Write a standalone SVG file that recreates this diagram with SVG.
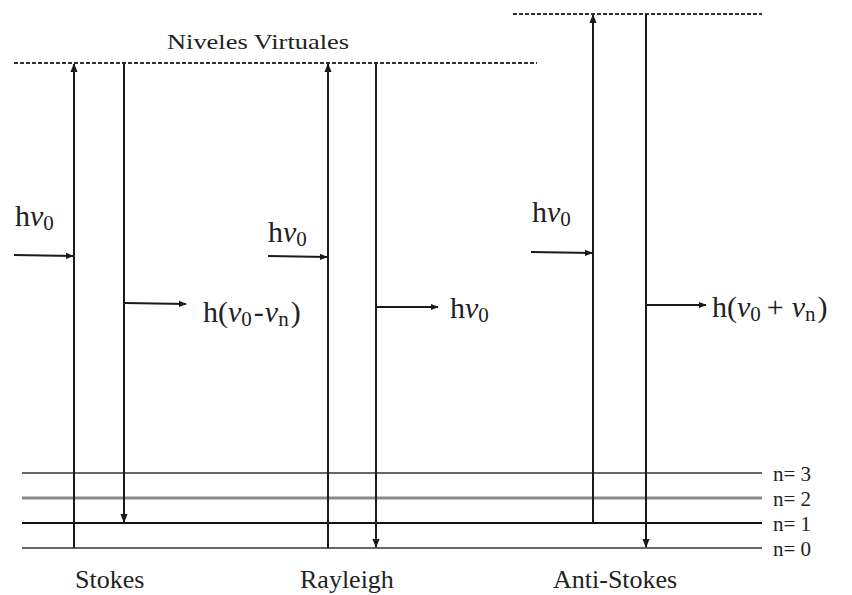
<svg xmlns="http://www.w3.org/2000/svg" width="852" height="595" viewBox="0 0 852 595">
  <style>
    .lbl { font-family: "Liberation Serif", "Times New Roman", serif; fill: #222; }
    .math { font-family: "Liberation Serif", "DejaVu Serif", serif; fill: #222; font-size: 30px; }
    .nu { font-style: italic; }
    .virt { stroke: #333; stroke-width: 2; stroke-dasharray: 4 2; fill: none; }
    .tr { stroke: #1a1a1a; stroke-width: 2; fill: none; }
    .ph { stroke: #1a1a1a; stroke-width: 1.8; fill: none; }
  </style>
  <defs>
    <marker id="ah" viewBox="0 0 10 10" refX="9" refY="5" markerWidth="4.5" markerHeight="4.5" orient="auto" markerUnits="strokeWidth">
      <path d="M0,1 L10,5 L0,9 z" fill="#1a1a1a"/>
    </marker>
  </defs>
  <rect width="852" height="595" fill="#fff"/>

  <!-- virtual levels -->
  <g id="virtual-levels">
    <line class="virt" x1="14" y1="63" x2="537" y2="63"/>
    <line class="virt" x1="513" y1="14" x2="762" y2="14"/>
    <text class="lbl" x="167" y="49" font-size="22" textLength="182" lengthAdjust="spacingAndGlyphs">Niveles Virtuales</text>
  </g>

  <!-- vibrational levels -->
  <g id="levels">
    <line x1="22" y1="473" x2="762" y2="473" stroke="#333" stroke-width="1.6"/>
    <line x1="22" y1="498" x2="762" y2="498" stroke="#8a8a8a" stroke-width="3"/>
    <line x1="22" y1="523" x2="762" y2="523" stroke="#111" stroke-width="2.2"/>
    <line x1="22" y1="548" x2="762" y2="548" stroke="#333" stroke-width="1.6"/>
    <text class="lbl" x="773" y="481" font-size="21">n= 3</text>
    <text class="lbl" x="773" y="506" font-size="21">n= 2</text>
    <text class="lbl" x="773" y="531" font-size="21">n= 1</text>
    <text class="lbl" x="773" y="556" font-size="21">n= 0</text>
  </g>

  <!-- transitions -->
  <g id="connectors">
    <line class="tr" x1="74" y1="548" x2="74" y2="64" marker-end="url(#ah)"/>
    <line class="tr" x1="124" y1="63" x2="124" y2="522" marker-end="url(#ah)"/>
    <line class="tr" x1="328" y1="548" x2="328" y2="64" marker-end="url(#ah)"/>
    <line class="tr" x1="376" y1="63" x2="376" y2="547" marker-end="url(#ah)"/>
    <line class="tr" x1="593" y1="523" x2="593" y2="15" marker-end="url(#ah)"/>
    <line class="tr" x1="646" y1="14" x2="646" y2="547" marker-end="url(#ah)"/>

    <line class="ph" x1="14" y1="255" x2="73" y2="256" marker-end="url(#ah)"/>
    <line class="ph" x1="268" y1="256" x2="327" y2="257" marker-end="url(#ah)"/>
    <line class="ph" x1="531" y1="252" x2="592" y2="253" marker-end="url(#ah)"/>

    <line class="ph" x1="125" y1="303" x2="186" y2="304" marker-end="url(#ah)"/>
    <line class="ph" x1="377" y1="307" x2="438" y2="307" marker-end="url(#ah)"/>
    <line class="ph" x1="647" y1="305" x2="706" y2="305" marker-end="url(#ah)"/>
  </g>

  <!-- Stokes -->
  <g id="stokes">
    <text class="math" x="15" y="226">h<tspan class="nu">ν</tspan><tspan font-size="21" dy="4">0</tspan></text>
    <text class="math" x="203" y="322">h(<tspan class="nu">ν</tspan><tspan font-size="21" dy="4">0</tspan><tspan dy="-4" dx="2">-</tspan><tspan class="nu" dx="1">ν</tspan><tspan font-size="21" dy="4">n</tspan><tspan dy="-4" dx="2">)</tspan></text>
    <text class="lbl" x="75" y="588" font-size="26">Stokes</text>
  </g>

  <!-- Rayleigh -->
  <g id="rayleigh">
    <text class="math" x="268" y="242">h<tspan class="nu">ν</tspan><tspan font-size="21" dy="4">0</tspan></text>
    <text class="math" x="450" y="318">h<tspan class="nu">ν</tspan><tspan font-size="21" dy="4">0</tspan></text>
    <text class="lbl" x="300" y="588" font-size="26">Rayleigh</text>
  </g>

  <!-- Anti-Stokes -->
  <g id="anti-stokes">
    <text class="math" x="532" y="222">h<tspan class="nu">ν</tspan><tspan font-size="21" dy="4">0</tspan></text>
    <text class="math" x="712" y="317">h(<tspan class="nu">ν</tspan><tspan font-size="21" dy="4">0</tspan><tspan dy="-4" dx="6">+</tspan><tspan class="nu" dx="8">ν</tspan><tspan font-size="21" dy="4">n</tspan><tspan dy="-4" dx="2">)</tspan></text>
    <text class="lbl" x="553" y="588" font-size="26">Anti-Stokes</text>
  </g>
</svg>
